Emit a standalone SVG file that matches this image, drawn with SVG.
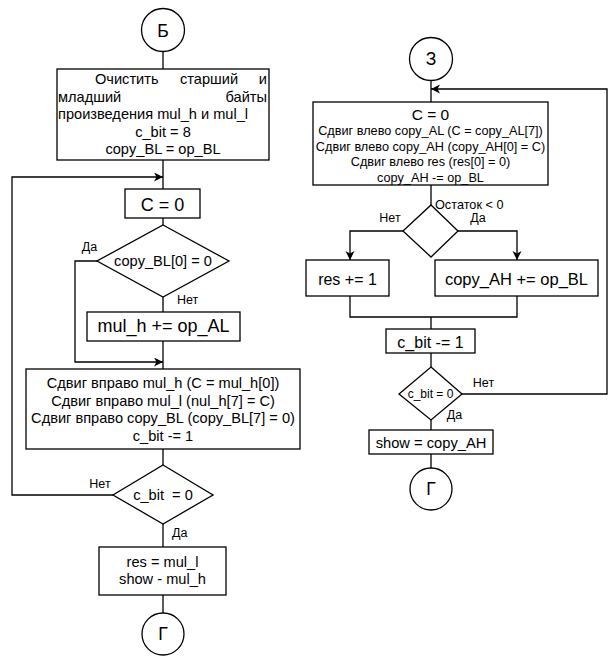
<svg xmlns="http://www.w3.org/2000/svg" width="616" height="661" viewBox="0 0 616 661">
  <defs>
    <marker id="arrow" markerUnits="userSpaceOnUse" markerWidth="10" markerHeight="10" refX="9" refY="4.5" orient="auto">
      <path d="M0,0 L9,4.5 L0,9 L2.5,4.5 Z" fill="#000"/>
    </marker>
    <style>
      text { font-family: "Liberation Sans", Arial, sans-serif; fill: #000; }
      .shape { fill: #fff; stroke: #000; stroke-width: 1.3; }
      .line { fill: none; stroke: #000; stroke-width: 1.3; }
      .arr { marker-end: url(#arrow); }
      .c { text-anchor: middle; }
      .t14 { font-size: 14.6px; }
      .t12 { font-size: 12.7px; }
      .t16 { font-size: 16px; }
      .t18 { font-size: 18px; }
      .t17 { font-size: 17.5px; }
      .lbl { font-size: 12.5px; }
    </style>
  </defs>
  <rect width="616" height="661" fill="#fff"/>

  <!-- connectors -->
  <g id="connectors">
    <!-- left chain -->
    <path class="line" d="M163,52 V69"/>
    <path class="line" d="M163,160 V189"/>
    <path class="line arr" d="M113,495 H12 V177 H163"/>
    <path class="line" d="M163,218 V225"/>
    <path class="line" d="M163,297 V312"/>
    <path class="line" d="M163,341 V369"/>
    <path class="line arr" d="M97,261 H75 V362 H163"/>
    <path class="line" d="M163,449 V465"/>
    <path class="line" d="M163,524 V547"/>
    <path class="line" d="M163,595 V613"/>
    <!-- right chain -->
    <path class="line" d="M431,80 V102"/>
    <path class="line arr" d="M462,394 H607 V89 H431"/>
    <path class="line" d="M431,185 V205"/>
    <path class="line arr" d="M403,231 H350 V260"/>
    <path class="line arr" d="M458,231 H517 V260"/>
    <path class="line" d="M350,296 V317 H517 V296"/>
    <path class="line" d="M431,317 V329"/>
    <path class="line" d="M431,353 V367"/>
    <path class="line" d="M431,420 V430"/>
    <path class="line" d="M431,454 V468"/>
    <!-- branch labels -->
    <text class="lbl c" x="89.5" y="251">Да</text>
    <text class="lbl" x="177" y="304">Нет</text>
    <text class="lbl c" x="100" y="488">Нет</text>
    <text class="lbl" x="172" y="537">Да</text>
    <text class="t12" x="435" y="208.5">Остаток &lt; 0</text>
    <text class="lbl c" x="390" y="222">Нет</text>
    <text class="lbl c" x="478" y="222">Да</text>
    <text class="lbl c" x="483.5" y="387">Нет</text>
    <text class="lbl c" x="454.5" y="419">Да</text>
  </g>

  <!-- left column -->
  <g id="start-b">
    <circle class="shape" cx="163" cy="30" r="21.5"/>
    <text class="t17 c" x="163" y="36.5">Б</text>
  </g>
  <g id="init">
    <rect class="shape" x="57" y="69" width="212" height="91"/>
    <text class="t14" x="95" y="84">Очистить</text>
    <text class="t14" x="180" y="84">старший</text>
    <text class="t14" x="267" y="84" text-anchor="end">и</text>
    <text class="t14" x="58" y="101.5">младший</text>
    <text class="t14" x="267" y="101.5" text-anchor="end">байты</text>
    <text class="t14" x="58" y="119">произведения mul_h и mul_l</text>
    <text class="t14 c" x="163" y="136.5">c_bit = 8</text>
    <text class="t14 c" x="163" y="154">copy_BL = op_BL</text>
  </g>
  <g id="clear-c">
    <rect class="shape" x="125" y="189" width="75" height="29"/>
    <text class="t18 c" x="162.5" y="210.5">C = 0</text>
  </g>
  <g id="test-bl">
    <polygon class="shape" points="163,225 229,261 163,297 97,261"/>
    <text class="c" style="font-size:14.6px" x="163" y="266">copy_BL[0] = 0</text>
  </g>
  <g id="add-al">
    <rect class="shape" x="87" y="312" width="153" height="29"/>
    <text class="t18 c" x="163.5" y="331.5">mul_h += op_AL</text>
  </g>
  <g id="shift-right">
    <rect class="shape" x="26" y="369" width="274" height="80"/>
    <text class="t14 c" x="163" y="388">Сдвиг вправо mul_h (C = mul_h[0])</text>
    <text class="t14 c" x="163" y="405.5">Сдвиг вправо mul_l (nul_h[7] = C)</text>
    <text class="t14 c" x="163" y="423">Сдвиг вправо copy_BL (copy_BL[7] = 0)</text>
    <text class="t14 c" x="163" y="440.5">c_bit -= 1</text>
  </g>
  <g id="test-cbit-left">
    <polygon class="shape" points="163,465 213,495 163,524 113,495"/>
    <text class="c" style="font-size:14.6px" x="163" y="500" xml:space="preserve">c_bit  = 0</text>
  </g>
  <g id="result">
    <rect class="shape" x="99" y="547" width="127" height="48"/>
    <text class="t14 c" x="162.5" y="566.5">res = mul_l</text>
    <text class="t14 c" x="162.5" y="584">show - mul_h</text>
  </g>
  <g id="end-left">
    <circle class="shape" cx="163" cy="634" r="21"/>
    <text class="t17 c" x="163" y="640">Г</text>
  </g>

  <!-- right column -->
  <g id="start-z">
    <circle class="shape" cx="431" cy="59" r="21.5"/>
    <text class="t17 c" x="431" y="65">З</text>
  </g>
  <g id="shift-left">
    <rect class="shape" x="313" y="102" width="235" height="83"/>
    <text class="c" style="font-size:15.5px" x="430.5" y="119.5">C = 0</text>
    <text class="t12 c" x="430.5" y="134.5">Сдвиг влево copy_AL (C = copy_AL[7])</text>
    <text class="t12 c" x="430.5" y="150.5">Сдвиг влево copy_AH (copy_AH[0] = C)</text>
    <text class="t12 c" x="430.5" y="166">Сдвиг влево res (res[0] = 0)</text>
    <text class="t12 c" x="430.5" y="181.5">copy_AH -= op_BL</text>
  </g>
  <g id="test-rest">
    <polygon class="shape" points="431,205 458,231 431,257 403,231"/>
  </g>
  <g id="inc-res">
    <rect class="shape" x="306" y="260" width="83" height="36"/>
    <text class="t16 c" x="347.5" y="285">res += 1</text>
  </g>
  <g id="restore">
    <rect class="shape" x="435" y="260" width="163" height="36"/>
    <text class="c" style="font-size:16.5px" x="516.5" y="285">copy_AH += op_BL</text>
  </g>
  <g id="dec-cbit">
    <rect class="shape" x="386" y="329" width="89" height="24"/>
    <text class="t16 c" x="430.5" y="348">c_bit -= 1</text>
  </g>
  <g id="test-cbit-right">
    <polygon class="shape" points="431,367 462,394 431,420 399,394"/>
    <text class="c" style="font-size:12px" x="430.5" y="397.5">c_bit = 0</text>
  </g>
  <g id="show">
    <rect class="shape" x="369" y="430" width="124" height="24"/>
    <text class="c" style="font-size:14.7px" x="431" y="448">show = copy_AH</text>
  </g>
  <g id="end-right">
    <circle class="shape" cx="431" cy="489" r="21"/>
    <text class="t17 c" x="431" y="495">Г</text>
  </g>
</svg>
